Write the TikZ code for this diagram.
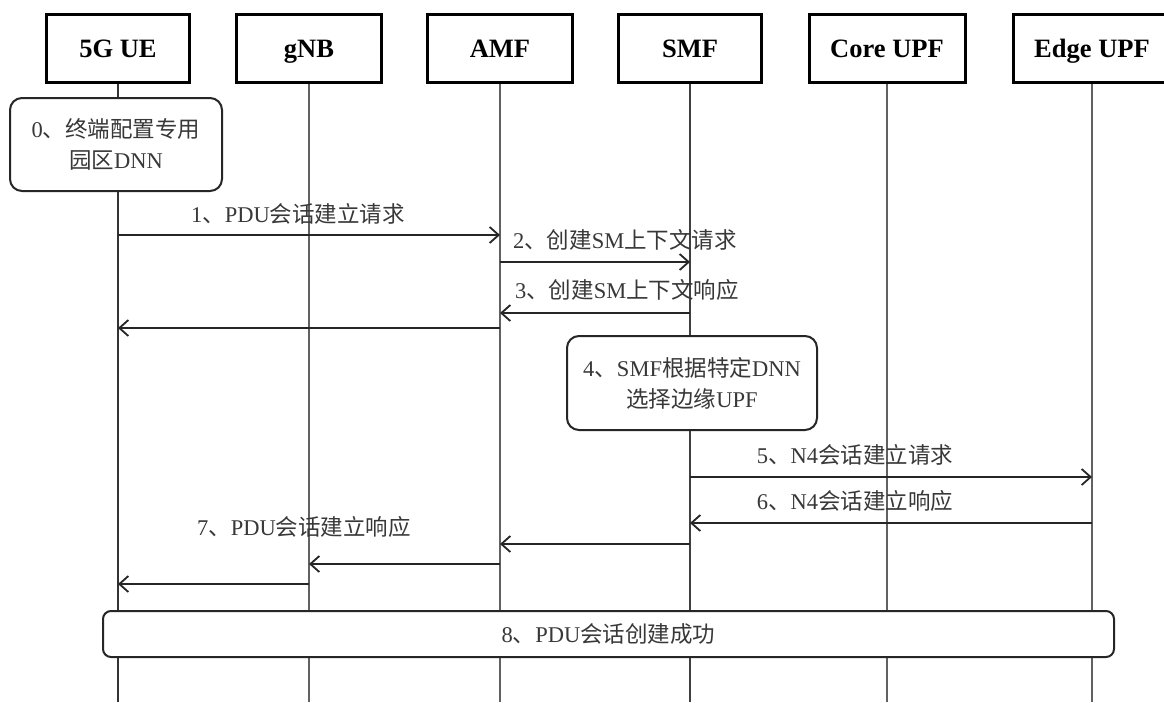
\documentclass[tikz,border=0pt]{standalone}
\usepackage{fontspec}
\setmainfont{Liberation Serif}
\newfontfamily\cjk{Noto Sans CJK SC}
\usetikzlibrary{arrows.meta}
\newcommand{\zh}[1]{{\cjk #1}}
\begin{document}
\begin{tikzpicture}[x=1pt,y=-1pt,
  head/.style={draw=black, line width=3pt, fill=white, minimum height=68pt, inner sep=0pt,
    text height=23pt, text depth=4pt,
    font=\fontsize{26.5}{28}\selectfont\bfseries},
  lifeline/.style={draw=black!62, line width=1.5pt},
  note/.style={draw=black!85, line width=2pt, rounded corners=12pt, fill=white, align=center,
    inner sep=0pt, text=black!78, font=\fontsize{22.5}{31}\selectfont},
  msg/.style={draw=black!85, line width=1.8pt, -{Straight Barb[length=9pt,width=16pt]}},
  lbl/.style={inner sep=0pt, text=black!78, font=\fontsize{22.5}{26}\selectfont}]
\useasboundingbox (0,0) rectangle (1164,702);
\fill[white] (0,0) rectangle (1164,702);

% headers
\node[head, minimum width=143pt] (ue)   at (118,48)  {5G UE};
\node[head, minimum width=145pt] (gnb)  at (309,48)  {gNB};
\node[head, minimum width=145pt] (amf)  at (500,48)  {AMF};
\node[head, minimum width=143pt] (smf)  at (690,48)  {SMF};
\node[head, minimum width=156pt] (cupf) at (887,48)  {Core UPF};
\node[head, minimum width=158pt] (eupf) at (1092,48) {Edge UPF};

% lifeline ends
\coordinate (bot) at (0,702);
\draw[lifeline, draw=black!80] (ue.south) -- (ue |- bot);
\draw[lifeline] (gnb.south) -- (gnb |- bot);
\draw[lifeline] (amf.south) -- (amf |- bot);
\draw[lifeline, draw=black!75] (smf.south) -- (smf |- bot);
\draw[lifeline] (cupf.south) -- (cupf |- bot);
\draw[lifeline] (eupf.south) -- (eupf |- bot);

% notes
\node[note, minimum width=212pt, minimum height=93pt] (n0) at (116,144.5)
  {0\zh{、终端配置专用}\\\zh{园区}DNN};
\node[note, minimum width=250pt, minimum height=94pt] (n4) at (692,383)
  {4\zh{、}SMF\zh{根据特定}DNN\\\zh{选择边缘}UPF};
\node[note, rounded corners=8pt, minimum width=1011pt, minimum height=46pt] (n8) at (608.5,634)
  {8\zh{、}PDU\zh{会话创建成功}};

% message rows
\coordinate (r1) at (0,235);
\coordinate (r2) at (0,262);
\coordinate (r3) at (0,313);
\coordinate (r3b) at (0,328);
\coordinate (r5) at (0,477);
\coordinate (r6) at (0,523);
\coordinate (r7a) at (0,544);
\coordinate (r7b) at (0,564);
\coordinate (r7c) at (0,584);

\draw[msg] (ue |- r1) -- (amf |- r1);
\draw[msg] (amf |- r2) -- (smf |- r2);
\draw[msg] (smf |- r3) -- (amf |- r3);
\draw[msg] (amf |- r3b) -- (ue |- r3b);
\draw[msg] (smf |- r5) -- (eupf |- r5);
\draw[msg] (eupf |- r6) -- (smf |- r6);
\draw[msg] (smf |- r7a) -- (amf |- r7a);
\draw[msg] (amf |- r7b) -- (gnb |- r7b);
\draw[msg] (gnb |- r7c) -- (ue |- r7c);

% labels
\node[lbl] (l1) at (298,214) {1\zh{、}PDU\zh{会话建立请求}};
\node[lbl] (l2) at (625,240) {2\zh{、创建}SM\zh{上下文请求}};
\node[lbl] (l3) at (627,290) {3\zh{、创建}SM\zh{上下文响应}};
\node[lbl] (l5) at (855,455) {5\zh{、}N4\zh{会话建立请求}};
\node[lbl] (l6) at (855,501) {6\zh{、}N4\zh{会话建立响应}};
\node[lbl] (l7) at (304,527) {7\zh{、}PDU\zh{会话建立响应}};
\end{tikzpicture}
\end{document}
